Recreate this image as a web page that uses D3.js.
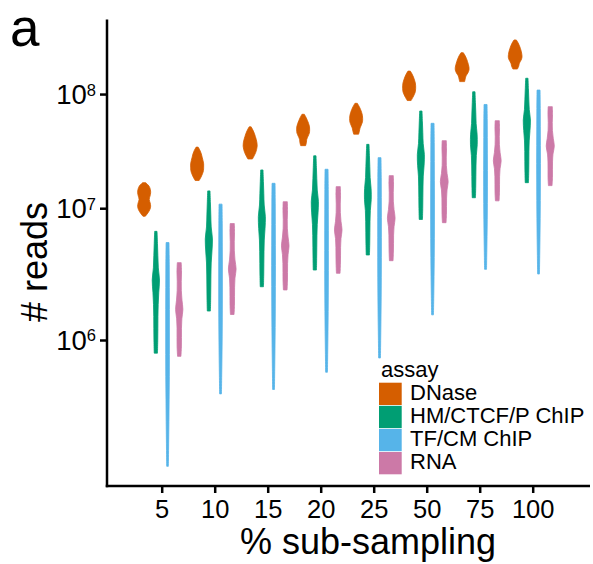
<!DOCTYPE html>
<html lang="en">
<head>
<meta charset="UTF-8">
<title># reads by sub-sampling</title>
<script src="https://d3js.org/d3.v7.min.js"></script>
<style>
  body { margin: 0; background: #fff; }
  svg { display: block; font-family: 'Liberation Sans', Arial, Helvetica, sans-serif; }
</style>
</head>
<body>
<svg id="chart" width="593" height="564"></svg>
<script>
// categories
const percents = ["5", "10", "15", "20", "25", "50", "75", "100"];
const assays = ["DNase", "HM/CTCF/P ChIP", "TF/CM ChIP", "RNA"];
const assayColors = ["#D55E00", "#009E73", "#56B4E9", "#CC79A7"];

// read ranges of each violin (min / max, # reads), one entry per percent
const dnaseMin = [8.6e6, 1.7e7, 2.6e7, 3.4e7, 4.3e7, 8.7e7, 1.31e8, 1.73e8];
const dnaseMax = [1.63e7, 3.3e7, 5.0e7, 6.5e7, 8.2e7, 1.65e8, 2.49e8, 3.33e8];
const histMin = [8.1e5, 1.61e6, 2.43e6, 3.25e6, 4.24e6, 8.1e6, 1.22e7, 1.63e7];
const histMax = [6.5e6, 1.39e7, 2.09e7, 2.77e7, 3.49e7, 6.96e7, 1.05e8, 1.41e8];
const tfMin = [1.5e5, 4.3e5, 4.6e5, 6.0e5, 7.5e5, 1.51e6, 3.29e6, 3.03e6];
const tfMax = [5.3e6, 1.08e7, 1.61e7, 2.12e7, 2.67e7, 5.38e7, 8.0e7, 1.09e8];
const rnaMin = [7.7e5, 1.52e6, 2.30e6, 3.07e6, 3.83e6, 7.63e6, 1.15e7, 1.54e7];
const rnaMax = [3.7e6, 7.5e6, 1.13e7, 1.51e7, 1.87e7, 3.76e7, 5.68e7, 7.63e7];

// relative density, 11 samples from min to max (1 = widest DNase)
const dnaseDens = [
  [0.18, 0.58, 0.88, 1.00, 0.92, 0.78, 0.90, 1.00, 0.95, 0.74, 0.23],
  [0.30, 0.59, 0.82, 0.97, 1.00, 1.00, 0.90, 0.77, 0.64, 0.44, 0.15],
  [0.35, 0.62, 0.85, 1.00, 1.08, 1.05, 0.95, 0.80, 0.64, 0.42, 0.15],
  [0.38, 0.50, 0.55, 0.75, 0.95, 1.00, 0.98, 0.85, 0.66, 0.45, 0.18],
  [0.38, 0.50, 0.60, 0.80, 0.97, 1.00, 0.97, 0.85, 0.68, 0.46, 0.18],
  [0.30, 0.55, 0.78, 0.95, 1.00, 1.00, 0.95, 0.82, 0.66, 0.45, 0.18],
  [0.38, 0.48, 0.60, 0.88, 1.05, 1.05, 0.95, 0.82, 0.66, 0.45, 0.18],
  [0.35, 0.55, 0.65, 0.90, 1.05, 1.03, 0.95, 0.82, 0.66, 0.45, 0.18]
];
const histDens = [
  [0.25, 0.29, 0.31, 0.32, 0.36, 0.45, 0.56, 0.38, 0.31, 0.25, 0.18],
  [0.24, 0.28, 0.30, 0.32, 0.36, 0.48, 0.55, 0.36, 0.30, 0.24, 0.18],
  [0.25, 0.29, 0.31, 0.33, 0.37, 0.49, 0.54, 0.36, 0.30, 0.24, 0.18],
  [0.25, 0.28, 0.30, 0.32, 0.37, 0.49, 0.55, 0.37, 0.30, 0.24, 0.18],
  [0.25, 0.29, 0.31, 0.33, 0.38, 0.52, 0.50, 0.35, 0.30, 0.24, 0.18],
  [0.25, 0.29, 0.31, 0.33, 0.37, 0.50, 0.54, 0.36, 0.30, 0.24, 0.18],
  [0.25, 0.29, 0.31, 0.33, 0.38, 0.52, 0.50, 0.35, 0.30, 0.24, 0.18],
  [0.25, 0.29, 0.31, 0.32, 0.36, 0.48, 0.55, 0.37, 0.30, 0.24, 0.18]
];
const tfDens = [
  [0.13, 0.17, 0.21, 0.24, 0.27, 0.28, 0.28, 0.28, 0.27, 0.26, 0.22],
  [0.14, 0.18, 0.22, 0.25, 0.27, 0.28, 0.28, 0.28, 0.27, 0.26, 0.23],
  [0.14, 0.18, 0.22, 0.25, 0.27, 0.28, 0.29, 0.28, 0.27, 0.26, 0.23],
  [0.14, 0.18, 0.22, 0.25, 0.27, 0.28, 0.28, 0.28, 0.27, 0.26, 0.23],
  [0.14, 0.18, 0.22, 0.25, 0.27, 0.28, 0.28, 0.28, 0.27, 0.26, 0.22],
  [0.14, 0.19, 0.23, 0.26, 0.28, 0.29, 0.29, 0.28, 0.27, 0.26, 0.23],
  [0.15, 0.19, 0.23, 0.26, 0.28, 0.29, 0.29, 0.28, 0.27, 0.26, 0.23],
  [0.14, 0.18, 0.22, 0.25, 0.27, 0.28, 0.29, 0.28, 0.27, 0.26, 0.23]
];
const rnaDens = [
  [0.26, 0.33, 0.34, 0.34, 0.40, 0.56, 0.42, 0.32, 0.31, 0.35, 0.30],
  [0.28, 0.34, 0.35, 0.36, 0.42, 0.59, 0.42, 0.32, 0.31, 0.35, 0.32],
  [0.28, 0.34, 0.35, 0.36, 0.43, 0.58, 0.43, 0.32, 0.31, 0.35, 0.32],
  [0.28, 0.33, 0.35, 0.36, 0.42, 0.58, 0.42, 0.32, 0.31, 0.35, 0.32],
  [0.28, 0.33, 0.35, 0.36, 0.43, 0.59, 0.43, 0.32, 0.31, 0.35, 0.32],
  [0.28, 0.34, 0.35, 0.36, 0.43, 0.60, 0.43, 0.32, 0.31, 0.35, 0.32],
  [0.28, 0.34, 0.35, 0.36, 0.43, 0.60, 0.44, 0.33, 0.31, 0.35, 0.32],
  [0.28, 0.34, 0.34, 0.35, 0.42, 0.62, 0.46, 0.33, 0.31, 0.35, 0.32]
];

// y ticks (# reads)
const yTicks = [1e6, 1e7, 1e8];

const svg = d3.select("#chart");
const plotLeft = 107, plotRight = 590, plotTop = 19.5, plotBottom = 486;
const fontFamily = "'Liberation Sans', Arial, Helvetica, sans-serif";

// the axis is log of log10(reads)
const y = d3.scaleLog().domain([5.058, 8.729]).range([plotBottom, plotTop]);
const yReads = v => y(Math.log10(v));

const x = d3.scalePoint().domain(percents).range([108.7, 585.7]).padding(1);
const dodge = d3.scaleBand().domain(assays).range([-23.4, 23.4]);
const halfW = d3.scaleLinear().domain([0, 1]).range([0, 6.5]);

const series = [
  { mins: dnaseMin, maxs: dnaseMax, dens: dnaseDens },
  { mins: histMin, maxs: histMax, dens: histDens },
  { mins: tfMin, maxs: tfMax, dens: tfDens },
  { mins: rnaMin, maxs: rnaMax, dens: rnaDens }
];

const violins = [];
series.forEach((s, ai) => {
  percents.forEach((p, pi) => {
    violins.push({ assay: assays[ai], color: assayColors[ai], pct: p,
                   lo: s.mins[pi], hi: s.maxs[pi], dens: s.dens[pi] });
  });
});

const area = d3.area()
  .y(d => d.py)
  .x0(d => d.cx - halfW(d.d))
  .x1(d => d.cx + halfW(d.d))
  .curve(d3.curveCatmullRom.alpha(0.5));

function outline(v) {
  const cx = x(v.pct) + dodge(v.assay) + dodge.bandwidth() / 2;
  const a = yReads(v.lo), b = yReads(v.hi);
  const n = v.dens.length - 1;
  return v.dens.map((d, i) => ({ cx, d, py: a + (b - a) * i / n }));
}

svg.append("g")
  .selectAll("path")
  .data(violins)
  .enter().append("path")
  .attr("d", d => area(outline(d)))
  .attr("fill", d => d.color)
  .attr("stroke", d => d.color)
  .attr("stroke-width", 0.8)
  .attr("stroke-linejoin", "round");

// y axis
const yAxis = d3.axisLeft(y)
  .tickValues(yTicks.map(Math.log10))
  .tickSize(7).tickSizeOuter(0).tickPadding(4);
const gy = svg.append("g").attr("transform", `translate(${plotLeft},0)`).call(yAxis)
  .attr("font-family", fontFamily);
gy.select(".domain").remove();
gy.selectAll(".tick line").attr("stroke", "#000").attr("stroke-width", 2.5);
gy.selectAll(".tick text").each(function(d) {
  const t = d3.select(this).text("").attr("dy", null).attr("y", 9.3)
    .attr("font-size", 27.5).attr("fill", "#000");
  t.append("tspan").text("10");
  t.append("tspan").text(Math.round(d)).attr("dy", -8.3).attr("font-size", 16.5);
});

// x axis
const xAxis = d3.axisBottom(x).tickSize(7).tickSizeOuter(0);
const gx = svg.append("g").attr("transform", `translate(0,${plotBottom})`).call(xAxis)
  .attr("font-family", fontFamily);
gx.select(".domain").remove();
gx.selectAll(".tick line").attr("stroke", "#000").attr("stroke-width", 2.5);
gx.selectAll(".tick text").attr("dy", null).attr("y", 32.3)
  .attr("font-size", 25.5).attr("fill", "#000");

// axis lines
svg.append("line").attr("x1", plotLeft).attr("x2", plotLeft)
  .attr("y1", plotTop).attr("y2", plotBottom + 1.25)
  .attr("stroke", "#000").attr("stroke-width", 2.5);
svg.append("line").attr("x1", plotLeft - 1.25).attr("x2", plotRight)
  .attr("y1", plotBottom).attr("y2", plotBottom)
  .attr("stroke", "#000").attr("stroke-width", 2.5);

// axis titles
svg.append("text").attr("x", 368).attr("y", 554)
  .attr("text-anchor", "middle").attr("font-size", 36).text("% sub-sampling");
svg.append("text").attr("transform", "translate(47,262) rotate(-90)")
  .attr("text-anchor", "middle").attr("font-size", 36).text("# reads");

// panel letter
svg.append("text").attr("x", 10).attr("y", 46).attr("font-size", 53).text("a");

// legend
const legend = svg.append("g").attr("transform", "translate(379,382.7)");
legend.append("text").attr("x", 2).attr("y", -6).attr("font-size", 22).text("assay");
const item = legend.selectAll("g.item").data(assays).enter().append("g")
  .attr("class", "item")
  .attr("transform", (d, i) => `translate(0,${i * 23.1})`);
item.append("rect").attr("width", 22.7).attr("height", 22.3)
  .attr("fill", (d, i) => assayColors[i]);
item.append("text").attr("x", 31).attr("y", 17).attr("font-size", 22).text(d => d);
</script>
</body>
</html>
